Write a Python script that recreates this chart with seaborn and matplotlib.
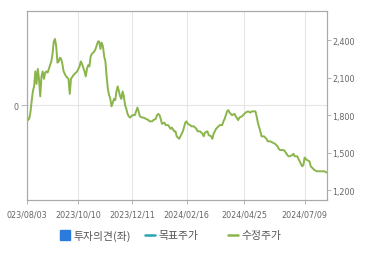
import matplotlib
matplotlib.use("Agg")
import matplotlib.pyplot as plt
from matplotlib.lines import Line2D
import seaborn as sns
import pandas as pd

# trading-day index and adjusted price (수정주가)
day = [0, 1, 2, 3, 4, 5, 6, 7, 8, 9, 10, 11, 12, 13, 14, 15, 16, 17, 18, 19,
       20, 21, 22, 23, 24, 25, 26, 27, 28, 29, 30, 32, 34, 35, 36, 38, 39, 41, 43, 44,
       45, 47, 48, 49, 50, 51, 52, 53, 55, 56, 57, 58, 59, 60, 61, 62, 63, 64, 65, 66,
       67, 68, 69, 70, 71, 72, 73, 74, 75, 76, 77, 78, 79, 80, 81, 82, 83, 84, 85, 86,
       88, 89, 90, 91, 92, 94, 95, 97, 99, 100, 102, 103, 105, 106, 107, 108, 109, 110, 112, 113,
       115, 117, 118, 120, 121, 122, 124, 125, 127, 129, 130, 131, 133, 134, 136, 138, 139, 141, 143, 144,
       145, 147, 148, 150, 151, 152, 154, 156, 157, 159, 160, 161, 163, 164, 165, 167, 169, 170, 172, 173,
       175, 177, 178, 180, 182, 183, 185, 186, 187, 188, 190, 191, 193, 195, 196, 198, 200, 202, 204, 205,
       206, 208, 209, 210, 212, 213, 214, 216, 217, 218, 220, 221, 222, 224, 225, 226, 228, 230, 231, 233,
       234, 236, 238, 240, 242, 244]
price = [1790, 1760, 1770, 1820, 1910, 1990, 2030, 2150, 2050, 2170, 2090, 1950, 2110, 2150, 2090, 2140, 2150, 2140, 2170, 2200,
         2230, 2290, 2390, 2410, 2350, 2220, 2230, 2260, 2250, 2210, 2150, 2110, 2090, 1970, 2090, 2120, 2130, 2150, 2190, 2230,
         2210, 2150, 2110, 2170, 2200, 2190, 2270, 2290, 2310, 2330, 2360, 2390, 2390, 2330, 2380, 2350, 2270, 2230, 2110, 2010,
         1960, 1930, 1870, 1900, 1930, 1920, 1990, 2030, 1990, 1950, 1930, 1990, 1950, 1880, 1850, 1810, 1790, 1780, 1790, 1800,
         1800, 1830, 1860, 1830, 1790, 1780, 1780, 1770, 1760, 1750, 1750, 1760, 1770, 1800, 1810, 1800, 1770, 1730, 1740, 1720,
         1720, 1690, 1700, 1670, 1670, 1630, 1610, 1630, 1670, 1740, 1750, 1730, 1720, 1710, 1710, 1690, 1670, 1670, 1650, 1630,
         1660, 1670, 1640, 1630, 1610, 1650, 1690, 1710, 1720, 1720, 1750, 1770, 1830, 1840, 1820, 1800, 1810, 1790, 1760, 1780,
         1790, 1810, 1820, 1830, 1820, 1830, 1830, 1830, 1790, 1740, 1670, 1630, 1630, 1610, 1590, 1590, 1580, 1570, 1550, 1530,
         1520, 1520, 1520, 1510, 1480, 1470, 1470, 1480, 1490, 1470, 1470, 1450, 1430, 1390, 1400, 1460, 1440, 1430, 1390, 1370,
         1360, 1350, 1350, 1350, 1350, 1340]

tick_days = [0, 42, 86, 130, 177, 226]
tick_labels = ["023/08/03", "2023/10/10", "2023/12/11", "2024/02/16", "2024/04/25", "2024/07/09"]
price_ticks = [1200, 1500, 1800, 2100, 2400]
opinion_ticks = [0]
legend_labels = ["투자의견(좌)", "목표주가", "수정주가"]

df = pd.DataFrame({"day": day, "price": price})

sns.set_theme(style="white")
plt.rcParams["font.family"] = ["DejaVu Sans"]

fig = plt.figure(figsize=(3.7, 2.55), dpi=100)
ax = fig.add_axes([0.0722, 0.2118, 0.8108, 0.7412])
ax2 = ax.twinx()

green = "#8ab54b"
blue = "#2b7bdc"
teal = "#26a6b4"
spine_c = "#aaaaaa"
tick_c = "#666666"

sns.lineplot(data=df, x="day", y="price", ax=ax2, color=green, linewidth=1.4)

ax.set_xlim(0, 244)
ax.set_ylim(-1, 1)
ax2.set_ylim(1120, 2634)

ax.set_xticks(tick_days)
ax.set_xticklabels(tick_labels)
ax.set_yticks(opinion_ticks)
ax.set_yticklabels([str(v) for v in opinion_ticks])
ax2.set_yticks(price_ticks)
ax2.set_yticklabels([f"{v:,}" for v in price_ticks])
ax2.set_xlabel("")
ax2.set_ylabel("")
ax.set_xlabel("")
ax.set_ylabel("")

ax.grid(True, color="#e6e6e6", linewidth=0.8)
ax2.grid(False)

for a in (ax, ax2):
    for s in a.spines.values():
        s.set_color(spine_c)
        s.set_linewidth(0.8)

ax.tick_params(axis="x", colors=tick_c, labelsize=5.8, length=3, width=0.6, color=spine_c, pad=4, bottom=True)
ax.tick_params(axis="y", colors=tick_c, labelsize=5.8, length=4, width=0.6, color=spine_c, pad=2, left=True)
ax2.tick_params(axis="y", colors=tick_c, labelsize=5.8, length=3, width=0.6, color=spine_c, pad=1, right=True)

handles = [
    Line2D([], [], marker="s", linestyle="none", markersize=6.5, color=blue),
    Line2D([], [], color=teal, linewidth=1.8),
    Line2D([], [], color=green, linewidth=1.8),
]
legend_x = [60 / 370, 145 / 370, 228 / 370]
for h, lab, lx in zip(handles, legend_labels, legend_x):
    leg = fig.legend([h], [lab], loc="center left", bbox_to_anchor=(lx, 0.073),
                     frameon=False, handlelength=0.9, handletextpad=0.35,
                     borderpad=0, borderaxespad=0,
                     prop={"family": ["Noto Sans CJK KR", "DejaVu Sans"], "size": 7.8})
    for t in leg.get_texts():
        t.set_color("#555555")

fig.savefig("out.png", dpi=100)
